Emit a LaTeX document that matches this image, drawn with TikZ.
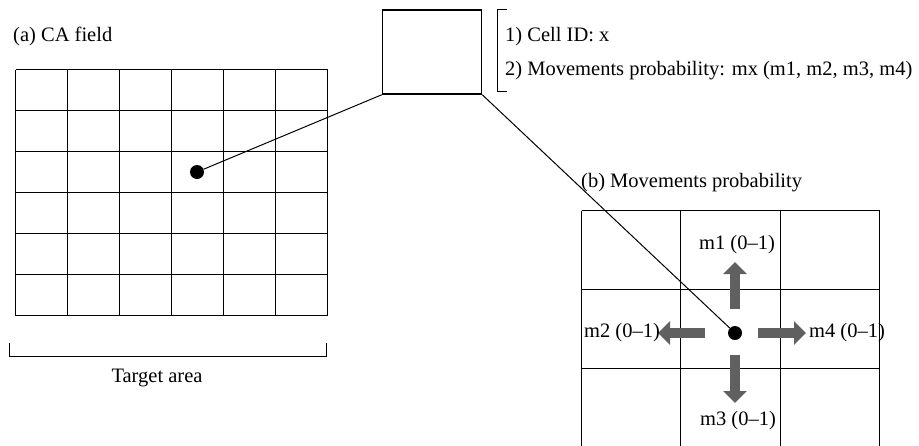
\documentclass[tikz,border=0pt]{standalone}
\usepackage{fontspec}
\setmainfont{Liberation Serif}
\usetikzlibrary{arrows.meta,calc}
\definecolor{arrowgray}{HTML}{606060}
\tikzset{
  lbl/.style={font=\fontsize{20.5}{24}\selectfont, inner sep=0pt},
  gridline/.style={line width=1.5pt},
  dotnode/.style={circle, fill=black, inner sep=0pt, minimum size=14pt},
  thinline/.style={line width=1pt},
  bigarrow/.style={arrowgray, line width=10.5pt, -{Triangle[width=23pt,length=12pt]}},
}
\begin{document}
\begin{tikzpicture}[x=1pt,y=-1pt]
\useasboundingbox (0,0) rectangle (919,445);
\clip (0,0) rectangle (919,445);
\fill[white] (0,0) rectangle (919,445);

% (a) CA field
\node[lbl, anchor=west] (titleA) at (13,36) {(a) CA field};
\foreach \x in {15.5,67.5,119.5,171.5,223.5,275.5,327.5}
  \draw[gridline] (\x,69.5) -- (\x,315.5);
\foreach \y in {69.5,110.5,151.5,192.5,233.5,274.5,315.5}
  \draw[gridline] (15.5,\y) -- (327.5,\y);
\node[dotnode] (dotA) at (197,172) {};

% Target area bracket
\coordinate (tl) at (9.5,343);
\coordinate (tr) at (326.5,343);
\draw[line width=1pt] (tl) -- (9.5,356.5) -- (326.5,356.5) -- (tr);
\node[lbl] (target) at (157,378) {Target area};

% top box and legend
\node[draw, line width=1.5pt, minimum width=99pt, minimum height=84pt, inner sep=0pt] (cellbox) at (432,52) {};
\coordinate (bt) at (507,9.5);
\coordinate (bb) at (507,91.5);
\draw[line width=1pt] (bt) -- (497.5,9.5) -- (497.5,91.5) -- (bb);
\node[lbl, anchor=west] (info1) at (505,37) {1) Cell ID: x};
\node[lbl, anchor=west] (info2) at (505,71) {2) Movements probability: mx (m1, m2, m3, m4)};

% (b) Movements probability
\node[lbl, anchor=west] (titleB) at (581,183) {(b) Movements probability};
\foreach \x in {581.5,680.5,780.5,879.5}
  \draw[gridline] (\x,210.5) -- (\x,447);
\foreach \y in {210.5,289.5,368.5}
  \draw[gridline] (581.5,\y) -- (879.5,\y);
\node[dotnode] (dotB) at (735,333) {};

% connectors
\draw[thinline] (dotA) -- (cellbox.south west);
\draw[thinline] (cellbox.south east) -- (dotB);

% movement arrows
\draw[bigarrow] ($(dotB.center)+(0,-24)$) -- ($(dotB.center)+(0,-71)$);
\draw[bigarrow] ($(dotB.center)+(0,22)$) -- ($(dotB.center)+(0,70)$);
\draw[bigarrow] ($(dotB.center)+(-30,0)$) -- ($(dotB.center)+(-77,0)$);
\draw[bigarrow] ($(dotB.center)+(23,0)$) -- ($(dotB.center)+(71,0)$);

\node[lbl] (m1) at (737,245) {m1 (0–1)};
\node[lbl] (m3) at (738,421) {m3 (0–1)};
\node[lbl] (m2) at (622,333) {m2 (0–1)};
\node[lbl] (m4) at (847,333) {m4 (0–1)};
\end{tikzpicture}
\end{document}
